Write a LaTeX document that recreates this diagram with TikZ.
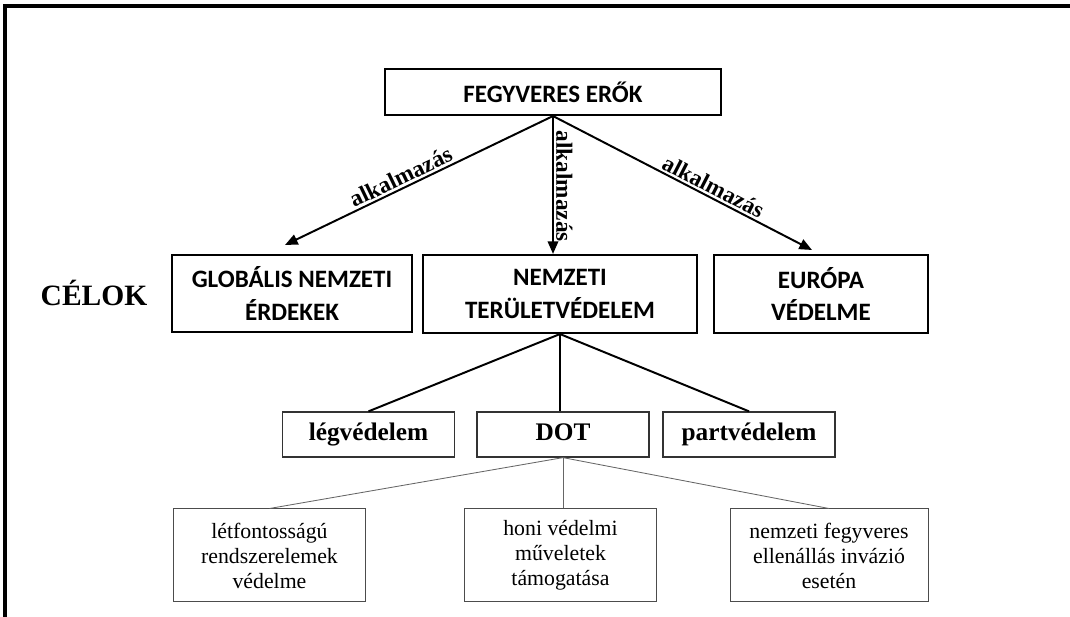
\documentclass[tikz,border=0pt]{standalone}
\usepackage{fontspec}
\setmainfont{Liberation Serif}
\newfontfamily\calibri{Carlito}
\usetikzlibrary{arrows.meta,calc}

\begin{document}
\begin{tikzpicture}[
    cel/.style={draw, line width=1.5pt, align=center, inner sep=0pt,
      font=\calibri\bfseries\fontsize{17.8}{22.8}\selectfont},
    sub/.style={draw=black!80, line width=0.9pt, inner sep=0pt,
      minimum width=4.3cm, minimum height=1.125cm,
      text height=12pt, text depth=4pt,
      font=\bfseries\fontsize{18}{21}\selectfont},
    leaf/.style={draw=black!70, line width=0.7pt, align=center, inner sep=0pt,
      minimum width=4.8cm, minimum height=2.325cm,
      font=\fontsize{15.5}{17.8}\selectfont},
    lbl/.style={sloped, above, inner sep=1.5pt,
      font=\bfseries\fontsize{16.5}{19}\selectfont},
    arr/.style={line width=1.4pt, -{Triangle[length=9pt,width=7.5pt]}}
    ]
    \useasboundingbox (0,0) rectangle (26.75,15.425);
    \draw[line width=2.8pt] (0.125,0) -- (0.125,15.275) -- (26.75,15.275);

    \node[cel, minimum width=8.4cm, minimum height=1.15cm] (fegy) at (13.825,13.125) {FEGYVERES ERŐK};
    \node[cel, minimum width=6cm, minimum height=1.925cm] (glob) at (7.3,8.0875) {GLOBÁLIS NEMZETI\\ÉRDEKEK};
    \node[cel, minimum width=6.85cm, minimum height=1.95cm] (nemz) at (14.0,8.075) {NEMZETI\\TERÜLETVÉDELEM};
    \node[cel, minimum width=5.35cm, minimum height=1.95cm] (europa) at (20.525,8.075) {EURÓPA\\VÉDELME};
    \node[font=\bfseries\fontsize{21}{25}\selectfont] (celok) at (2.35,8.1) {CÉLOK};

    \node[sub] (legv) at (9.2125,4.5625) {légvédelem};
    \node[sub] (dot) at (14.075,4.5625) {DOT};
    \node[sub] (part) at (18.725,4.5625) {partvédelem};

    \node[leaf] (letf) at (6.7375,1.5375) {létfontosságú\\rendszerelemek\\védelme};
    \node[leaf] (honi) at (14.0125,1.5375) {honi védelmi\\műveletek\\támogatása};
    \node[leaf, minimum width=4.95cm] (ellen) at (20.725,1.5375) {nemzeti fegyveres\\ellenállás invázió\\esetén};

    \coordinate (gtip) at (7.125,9.3);
    \coordinate (etip) at (20.3,9.175);
    \draw[arr] (fegy.south) -- node[lbl, pos=0.55] {alkalmazás} (gtip);
    \draw[arr] (fegy.south) -- node[lbl, pos=0.51] {alkalmazás} (fegy.south |- nemz.north);
    \draw[arr] (fegy.south) -- node[lbl, pos=0.6] {alkalmazás} (etip);

    \draw[line width=1.4pt] (nemz.south) -- (legv.north);
    \draw[line width=1.4pt] (nemz.south) -- (nemz.south |- dot.north);
    \draw[line width=1.4pt] (nemz.south) -- (part.north);

    \draw[black!60, line width=0.6pt] (dot.south) -- (letf.north);
    \draw[black!60, line width=0.6pt] (dot.south) -- (dot.south |- honi.north);
    \draw[black!60, line width=0.6pt] (dot.south) -- (ellen.north);
\end{tikzpicture}
\end{document}
